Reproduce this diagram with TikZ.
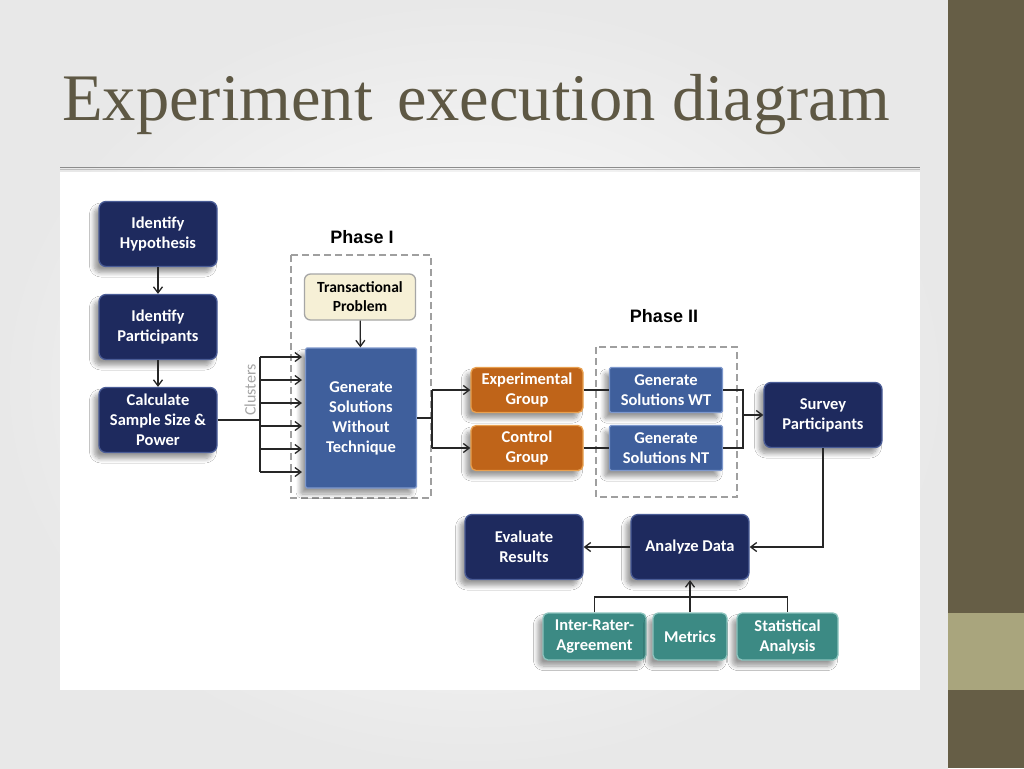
\documentclass[tikz,border=0pt]{standalone}
\usepackage{fontspec}
\setmainfont{Liberation Serif}
\newfontfamily\carl{Carlito}
\newfontfamily\arl{Liberation Sans}
\usetikzlibrary{arrows.meta,shadows.blur}
\definecolor{navyc}{HTML}{1E2A5E}
\definecolor{navyedge}{HTML}{4A5C96}
\definecolor{bluec}{HTML}{3F5F9C}
\definecolor{blueedge}{HTML}{7E98CC}
\definecolor{orangec}{HTML}{BF6419}
\definecolor{orangeedge}{HTML}{E8A050}
\definecolor{tealc}{HTML}{3C8A84}
\definecolor{tealedge}{HTML}{8CC4BE}
\definecolor{creamc}{HTML}{F6F0D6}
\definecolor{titlec}{HTML}{5E5844}
\definecolor{bandc}{HTML}{665E46}
\definecolor{bandl}{HTML}{A9A57D}
\tikzset{
  plainbox/.style={rectangle, align=center, text=white, inner sep=0pt,
    font=\carl\bfseries\fontsize{16.5}{20}\selectfont},
  base/.style={plainbox,
    blur shadow={shadow xshift=-5pt, shadow yshift=-6pt, shadow blur steps=8, shadow blur radius=4.5pt, shadow opacity=40}},
  navy/.style={base, fill=navyc, draw=navyedge, line width=1.3pt, rounded corners=7pt, minimum width=118, minimum height=65},
  bluebox/.style={base, fill=bluec, draw=blueedge, line width=1.3pt, rounded corners=1.5pt},
  orangebox/.style={base, fill=orangec, draw=orangeedge, line width=1.3pt, rounded corners=5pt, minimum width=112, minimum height=45},
  tealbox/.style={base, fill=tealc, draw=tealedge, line width=1.3pt, rounded corners=5pt, minimum height=47},
  phase/.style={font=\arl\bfseries\fontsize{18}{20}\selectfont, text=black},
  dashbox/.style={draw=gray!75, line width=1.3pt, dash pattern=on 7pt off 4pt},
  conn/.style={draw=black!85, line width=1.3pt},
  arr/.style={conn, -{Straight Barb[length=6pt,width=9pt,line width=1.3pt]}},
}
\begin{document}
\begin{tikzpicture}[x=1pt,y=-1pt]
\useasboundingbox (0,0) rectangle (1024,768);
% slide background
\shade[inner color=white, outer color=black!9, shading=radial] (0,0) rectangle (948,768);
\fill[bandc] (948,0) rectangle (1024,768);
\fill[bandl] (948,613) rectangle (1024,690);
% title
\node[anchor=base west, inner sep=0pt, text=titlec, font=\fontsize{66.5}{68}\selectfont] (title) at (62,120) {Experiment\hspace{0.12em} execution diagram};
\draw[black!45, line width=0.8pt] (60,167) -- (920,167);
\draw[black!25, line width=0.8pt] (60,169.5) -- (920,169.5);
% white panel
\fill[white] (60,172) rectangle (920,690);

% left column
\node[navy] (hyp) at (158,234) {Identify\\Hypothesis};
\node[navy] (part) at (158,327) {Identify\\Participants};
\node[navy] (calc) at (158,420) {Calculate\\Sample Size \&\\Power};
\draw[arr] (hyp) -- (part);
\draw[arr] (part) -- (calc);

% phase I
\node[phase] (ph1) at (362,237) {Phase I};
\draw[dashbox] (291,255) rectangle (431,498);
\node[plainbox, fill=creamc, draw=black!35, line width=1.3pt, rounded corners=6pt, text=black, font=\carl\bfseries\fontsize{15.5}{19}\selectfont, minimum width=111, minimum height=46] (trans) at (360,297) {Transactional\\Problem};
\node[bluebox, minimum width=111, minimum height=140] (gen) at (361,418) {Generate\\Solutions\\Without\\Technique};
\draw[arr] (trans) -- (gen);

% clusters
\coordinate (bus) at (260,420);
\draw[conn] (calc.east) -- (bus);
\draw[conn] (260,357) -- (260,472);
\foreach \y in {357,380,403,426,449,472}
  \draw[arr] (260,\y) -- (302,\y);
\node[rotate=90, text=black!35, font=\carl\fontsize{16}{16}\selectfont] (clus) at (250,390) {Clusters};

% groups
\node[orangebox] (exp) at (527,390) {Experimental\\Group};
\node[orangebox] (ctl) at (527,448) {Control\\Group};
\coordinate (split) at (432,418);
\draw[conn] (gen.east) -- (split);
\draw[conn] (432,390) -- (432,448);
\draw[arr] (432,390) -- (exp.west);
\draw[arr] (432,448) -- (ctl.west);

% phase II
\node[phase] (ph2) at (664,316) {Phase II};
\draw[dashbox] (596,347) rectangle (737,497);
\node[bluebox, minimum width=113, minimum height=45] (wt) at (666,390) {Generate\\Solutions WT};
\node[bluebox, minimum width=113, minimum height=45] (nt) at (666,448) {Generate\\Solutions NT};
\draw[conn] (exp) -- (wt);
\draw[conn] (ctl) -- (nt);

\node[navy] (survey) at (823,415) {Survey\\Participants};
\coordinate (merge) at (743,415);
\draw[conn] (wt.east) -- (743,390) -- (743,448) -- (nt.east);
\draw[arr] (merge) -- (survey.west);

% analysis
\node[navy] (anal) at (690,547) {Analyze Data};
\node[navy] (eval) at (524,547) {Evaluate\\Results};
\coordinate (corner) at (823,547);
\draw[arr] (survey.south) -- (corner) -- (anal.east);
\draw[arr] (anal) -- (eval);

\node[tealbox, minimum width=103] (irr) at (594.5,636.5) {Inter-Rater-\\Agreement};
\node[tealbox, minimum width=74] (met) at (690,636.5) {Metrics};
\node[tealbox, minimum width=101] (stat) at (787.5,636.5) {Statistical\\Analysis};
\draw[conn] (irr.north) -- (594.5,597) -- (787.5,597) -- (stat.north);
\draw[arr] (met.north) -- (anal.south);
\end{tikzpicture}
\end{document}
